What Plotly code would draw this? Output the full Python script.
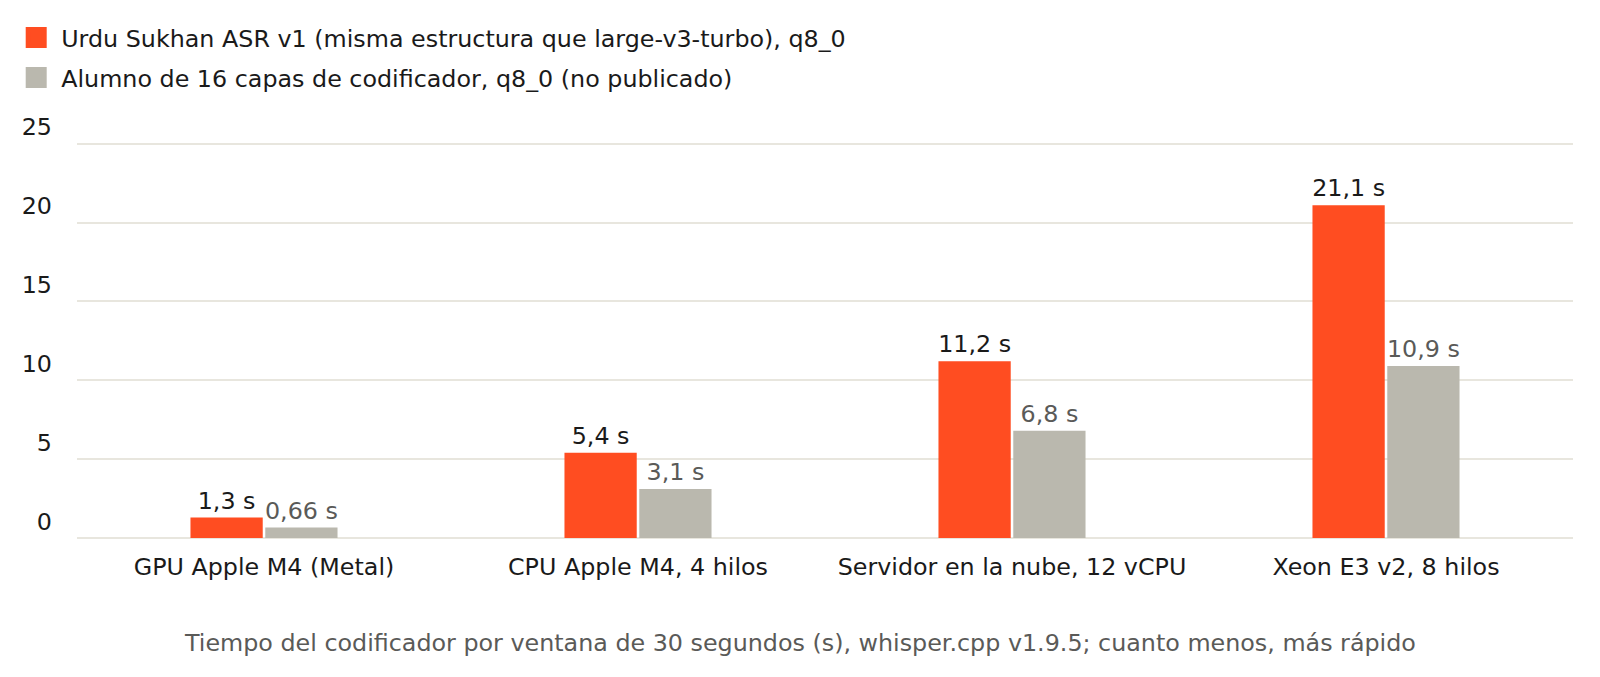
import plotly.graph_objects as go

categories = ["GPU Apple M4 (Metal)", "CPU Apple M4, 4 hilos",
              "Servidor en la nube, 12 vCPU", "Xeon E3 v2, 8 hilos"]
series_names = ["Urdu Sukhan ASR v1 (misma estructura que large-v3-turbo), q8_0",
                "Alumno de 16 capas de codificador, q8_0 (no publicado)"]
urdu_values = [1.3, 5.4, 11.2, 21.1]
student_values = [0.66, 3.1, 6.8, 10.9]
y_ticks = [0, 5, 10, 15, 20, 25]
x_title = "Tiempo del codificador por ventana de 30 segundos (s), whisper.cpp v1.9.5; cuanto menos, más rápido"

RED = "#FF4D21"
GRAY = "#BAB8AE"
GRID = "#E8E6DE"
FONT = "DejaVu Sans"
FS = 23.8


def fmt(v):
    return f"{v:g}".replace(".", ",") + " s"


fig = go.Figure()
for name, vals, col, tcol in [(series_names[0], urdu_values, RED, "#1a1a1a"),
                               (series_names[1], student_values, GRAY, "#5a5a58")]:
    fig.add_trace(go.Bar(
        x=categories, y=vals, name=name, marker=dict(color=col, line=dict(width=0)),
        text=[fmt(v) for v in vals], textposition="outside",
        textfont=dict(color=tcol, size=FS, family=FONT),
        cliponaxis=False, showlegend=False, constraintext="none",
    ))
    fig.add_trace(go.Scatter(
        x=[None], y=[None], mode="markers", name=name,
        marker=dict(symbol="square", size=16, color=col, line=dict(color=col, width=5)),
        legendgroup=name,
    ))

fig.update_layout(
    width=1600, height=677,
    paper_bgcolor="white", plot_bgcolor="white",
    margin=dict(l=77, r=27, t=139, b=139, autoexpand=False),
    font=dict(family=FONT, size=FS, color="#1a1a1a"),
    barmode="group", bargap=0.6, bargroupgap=0.034,
    legend=dict(
        xref="container", yref="container", x=0.007, y=0.977, xanchor="left", yanchor="top",
        font=dict(size=FS, color="#1a1a1a", family=FONT),
        tracegroupgap=6, itemwidth=40, bgcolor="rgba(0,0,0,0)",
    ),
    showlegend=True,
)
fig.add_annotation(
    text=x_title, xref="paper", yref="paper", x=(800 - 77) / 1496, y=0,
    xanchor="center", yanchor="middle", yshift=-105, showarrow=False,
    font=dict(size=FS, color="#5a5a58", family=FONT),
)
fig.update_yaxes(
    range=[0, 25.3], tickvals=y_ticks, showgrid=True, gridcolor=GRID, gridwidth=2,
    zeroline=True, zerolinecolor=GRID, zerolinewidth=2, showline=False,
    ticks="", ticklabelposition="outside top", ticklabelstandoff=24,
    tickfont=dict(size=FS, color="#1a1a1a"), fixedrange=True, automargin=False,
)
fig.update_xaxes(
    showgrid=False, showline=False, ticks="", ticklabelstandoff=12, tickangle=0,
    tickfont=dict(size=FS, color="#1a1a1a"), automargin=False,
)

fig.write_html("out.html")
